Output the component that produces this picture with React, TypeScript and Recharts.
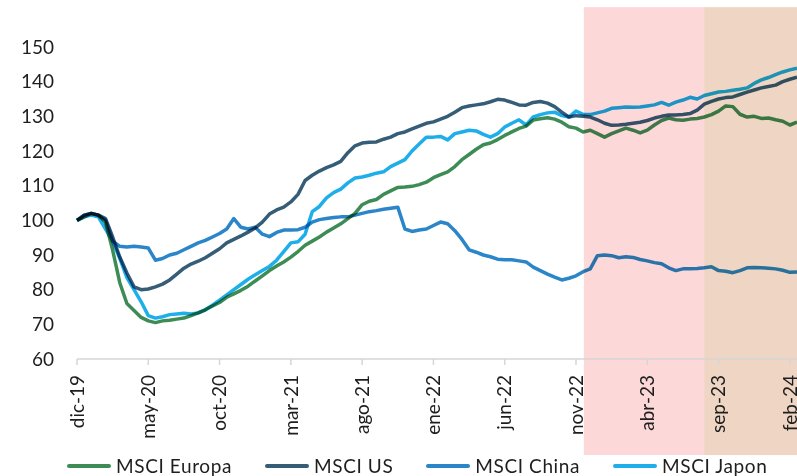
import React from 'react';
import { LineChart, Line, XAxis, YAxis, ReferenceArea } from 'recharts';

// half-month steps starting dic-19
const tickLabels = ['dic-19', 'may-20', 'oct-20', 'mar-21', 'ago-21', 'ene-22', 'jun-22', 'nov-22', 'abr-23', 'sep-23', 'feb-24'];
const tickSteps = [0, 10, 20, 30, 40, 50, 60, 70, 80, 90, 100];
const yTicks = [60, 70, 80, 90, 100, 110, 120, 130, 140, 150];

const europa = [
  100, 101, 102, 101.5, 99.5, 91.4, 82, 76, 74, 72,
  71, 70.5, 71, 71.2, 71.5, 71.8, 72.5, 73.3, 74.2, 75.3,
  76.3, 77.8, 78.8, 79.8, 81, 82.5, 84, 85.5, 86.8, 88,
  89.4, 91, 92.8, 94, 95.2, 96.6, 97.8, 99, 100.5, 102,
  104.5, 105.5, 106, 107.5, 108.5, 109.5, 109.6, 109.8, 110.3, 111,
  112.3, 113.2, 114, 115.5, 117.5, 119, 120.5, 121.8, 122.3, 123.3,
  124.5, 125.5, 126.5, 127.2, 128.9, 129.3, 129.6, 129.2, 128.3, 127,
  126.6, 125.5, 126, 125, 124, 125, 125.8, 126.6, 126, 125.2,
  126, 127.5, 128.8, 129.5, 129, 128.9, 129.2, 129.4, 129.8, 130.5,
  131.5, 133, 132.8, 130.6, 129.8, 130, 129.4, 129.5, 129, 128.6,
  127.5, 128.3,
];

const us = [
  100, 101.5, 102, 101.5, 100.5, 95.2, 89.4, 84.8, 80.8, 80,
  80.2, 80.8, 81.6, 82.8, 84.5, 86.2, 87.4, 88.2, 89.2, 90.5,
  91.8, 93.5, 94.5, 95.5, 96.6, 97.8, 99.5, 101.8, 103, 103.8,
  105.3, 107.5, 111.5, 113, 114.2, 115.2, 116, 117, 119.5, 121.5,
  122.3, 122.5, 122.6, 123.4, 124, 125, 125.5, 126.4, 127.2, 128,
  128.4, 129.2, 130, 131.2, 132.5, 133, 133.3, 133.6, 134.2, 134.9,
  134.7, 134, 133.3, 133.2, 134, 134.3, 133.8, 132.8, 131.2, 129.8,
  130.2, 130, 129.8, 129, 128, 127.4, 127.5, 127.7, 128, 128.3,
  128.8, 129.5, 130, 130.4, 130.4, 130.5, 130.8, 131.8, 133.5, 134.3,
  135, 135.4, 135.6, 136.3, 137, 137.6, 138.2, 138.6, 139, 140,
  140.7, 141.3,
];

const china = [
  100, 101.5, 102, 101.5, 100, 94, 92.5, 92.3, 92.5, 92.3,
  92, 88.5, 89, 90, 90.5, 91.5, 92.5, 93.5, 94.2, 95.2,
  96.2, 97.5, 100.5, 98, 97.5, 98, 96, 95.3, 96.5, 97.2,
  97.2, 97.3, 98, 99.5, 100.2, 100.5, 100.8, 101, 101, 101.5,
  102, 102.5, 102.8, 103.2, 103.5, 103.8, 97.5, 96.8, 97.2, 97.5,
  98.5, 99.5, 99, 97, 94.5, 91.5, 90.8, 90, 89.5, 88.8,
  88.6, 88.6, 88.3, 88, 86.5, 85.5, 84.5, 83.6, 82.8, 83.3,
  84, 85.2, 86, 89.8, 90, 89.8, 89.2, 89.5, 89.3, 88.7,
  88.3, 87.8, 87.5, 86.3, 85.5, 86, 86, 86.1, 86.3, 86.6,
  85.5, 85.3, 84.9, 85.5, 86.3, 86.4, 86.3, 86.2, 86, 85.6,
  85, 85.1,
];

const japon = [
  100, 101, 101.5, 101, 97.5, 94, 89, 83.5, 80, 76.5,
  72.5, 71.8, 72.2, 72.8, 73, 73.2, 73, 73.3, 74.2, 75.5,
  77, 78.5, 80, 81.5, 83, 84.3, 85.5, 86.7, 88.5, 91,
  93.5, 93.8, 96, 102.5, 104, 106.5, 108, 109, 110.8, 112.2,
  112.5, 113, 113.6, 114, 115.5, 116.5, 117.5, 120, 122, 124,
  124, 124.2, 123.2, 125, 125.5, 126, 125.8, 124.8, 124, 125,
  126.9, 128, 129, 127.5, 129.8, 130.5, 131, 131.2, 130.2, 129.8,
  131.5, 130.6, 130.5, 131, 131.5, 132.3, 132.5, 132.7, 132.6, 132.7,
  133, 133.3, 134, 133.2, 134.1, 134.7, 135.5, 135, 136, 136.5,
  137, 137.2, 137.5, 137.8, 138.2, 139.5, 140.5, 141.2, 142, 142.8,
  143.4, 143.9,
];

// shaded periods (in half-month steps)
const shadeFrom = [71.1, 88];
const shadeTo = [88, 101];
const shadeColors = ['#FDD8D8', '#EFD6C4'];

const series = [
  { key: 'europa', name: 'MSCI Europa', color: '#3E8C55' },
  { key: 'us', name: 'MSCI US', color: '#355D78' },
  { key: 'china', name: 'MSCI China', color: '#2B86C9' },
  { key: 'japon', name: 'MSCI Japon', color: '#1EAEE9' },
];

const data = europa.map((v, i) => ({
  t: i,
  europa: v,
  us: us[i],
  china: china[i],
  japon: japon[i],
}));

const FONT = 'Lato, "DejaVu Sans", sans-serif';

const DateTick = (props: any) => {
  const { x, y, payload } = props;
  const idx = tickSteps.indexOf(payload.value);
  return (
    <g transform={`translate(${x},${y})`}>
      <text
        x={-8}
        y={0}
        dy="0.35em"
        transform="rotate(-90)"
        textAnchor="end"
        fill="#1e1e1e"
        fontSize={19}
        fontFamily={FONT}
      >
        {tickLabels[idx]}
      </text>
    </g>
  );
};

const ShadeRect = (props: any) => {
  const { x, y, width, height, fill } = props;
  return <rect x={x} y={y} width={width} height={height} fill={fill} style={{ mixBlendMode: 'multiply' }} />;
};

export default function App() {
  return (
    <div style={{ position: 'absolute', left: 0, top: 0, width: 797, height: 476, overflow: 'hidden', background: '#fff', fontFamily: FONT }}>
      {/* lines are tinted by the shaded periods, as in the source */}
      <style>{'.recharts-line-curve{mix-blend-mode:multiply}'}</style>
      <LineChart width={797} height={476} data={data} margin={{ top: 47, right: 0, left: 0, bottom: 0 }}>
        <XAxis
          dataKey="t"
          type="number"
          domain={[0, 101]}
          ticks={tickSteps}
          interval={0}
          height={117}
          tick={<DateTick />}
          tickSize={6}
          tickMargin={2}
          axisLine={{ stroke: '#D6D6D6', strokeWidth: 1.5 }}
          tickLine={{ stroke: '#D6D6D6', strokeWidth: 1.5 }}
        />
        <YAxis
          type="number"
          domain={[60, 150]}
          ticks={yTicks}
          interval={0}
          width={77}
          axisLine={false}
          tickLine={false}
          tickSize={0}
          tickMargin={23}
          tick={{ fill: '#1e1e1e', fontSize: 19, fontFamily: FONT }}
        />
        {shadeFrom.map((from, i) => (
          <ReferenceArea
            key={i}
            x1={from}
            x2={shadeTo[i]}
            y1={32.3}
            y2={161.5}
            ifOverflow="visible"
            fill={shadeColors[i]}
            fillOpacity={1}
            stroke="none"
            shape={<ShadeRect />}
          />
        ))}
        {series.map((s) => (
          <Line
            key={s.key}
            type="linear"
            dataKey={s.key}
            name={s.name}
            stroke={s.color}
            strokeWidth={3.5}
            strokeLinejoin="round"
            dot={false}
            activeDot={false}
            isAnimationActive={false}
          />
        ))}
      </LineChart>
      <div style={{ position: 'absolute', top: 455, left: 67, display: 'flex', alignItems: 'center', gap: 33, whiteSpace: 'nowrap' }}>
        {series.map((s) => (
          <div key={s.key} style={{ display: 'flex', alignItems: 'center' }}>
            <span style={{ display: 'inline-block', width: 44, height: 4, borderRadius: 2, background: s.color, marginRight: 5 }} />
            <span style={{ fontSize: 19, color: '#1e1e1e', letterSpacing: 0.6, lineHeight: '22px' }}>{s.name}</span>
          </div>
        ))}
      </div>
    </div>
  );
}
